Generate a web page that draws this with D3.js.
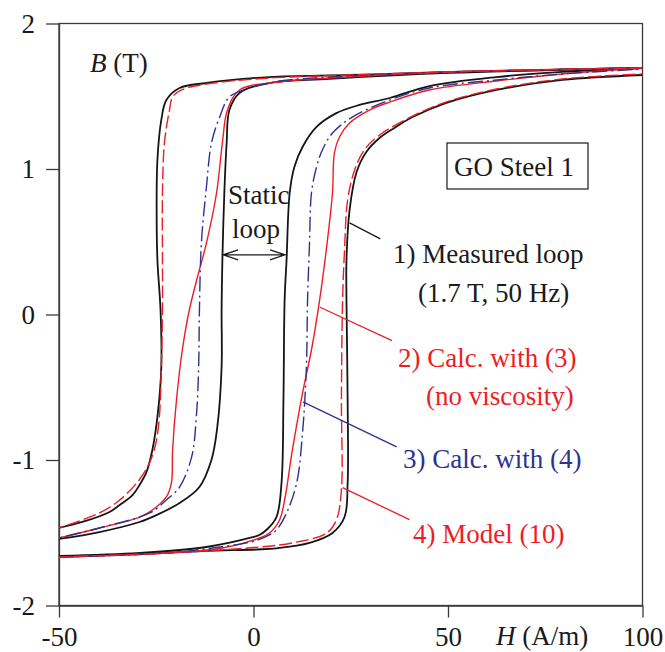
<!DOCTYPE html>
<html>
<head>
<meta charset="utf-8">
<script src="https://cdn.jsdelivr.net/npm/d3@7"></script>
<style>
  body { margin: 0; background: #fff; }
  svg text { font-family: "Liberation Serif", "Times New Roman", serif; }
  .axis path, .axis line { stroke: #3a3a3a; stroke-width: 1.3; }
  .axis text { font-size: 27px; fill: #1a1a1a; }
</style>
</head>
<body>
<script>
// H (A/m), B (T) pairs
const measuredDown = [[100,1.694],[50.4,1.667],[24.7,1.646],[4.1,1.632],[-12.1,1.591],[-19.0,1.557],[-22.4,1.474],[-23.7,1.337],[-24.7,1.062],[-24.9,0.718],[-24.7,0.375],[-23.9,0.031],[-23.7,-0.361],[-24.7,-0.704],[-26.0,-0.931],[-27.5,-1.082],[-29.3,-1.172],[-31.1,-1.241],[-34.4,-1.309],[-37.0,-1.357],[-44.0,-1.426],[-50.1,-1.467]];
const measuredUp = [[-50.1,-1.667],[-22.4,-1.639],[-12.1,-1.625],[0.8,-1.615],[5.9,-1.607],[14.4,-1.570],[20.3,-1.502],[23.4,-1.392],[24.2,-1.158],[24.2,-0.588],[23.9,0.1],[23.9,0.375],[24.7,0.718],[26.5,0.979],[29.0,1.117],[32.4,1.213],[36.2,1.282],[40.9,1.357],[49.6,1.454],[62.5,1.543],[79.4,1.612],[100,1.646]];

const staticDown = [[100,1.694],[50.4,1.660],[19.5,1.619],[4.1,1.591],[-3.6,1.522],[-6.2,1.405],[-6.9,1.179],[-7.5,0.835],[-8.0,0.375],[-8.2,0.031],[-8.2,-0.361],[-9.3,-0.773],[-10.8,-0.999],[-13.9,-1.186],[-19.0,-1.296],[-24.9,-1.378],[-29.3,-1.426],[-39.6,-1.495],[-50.1,-1.543]];
const staticUp = [[-50.1,-1.660],[-29.3,-1.639],[-12.1,-1.598],[-1.0,-1.536],[1.5,-1.515],[3.3,-1.481],[5.9,-1.392],[7.2,-1.158],[7.7,-0.588],[8.0,0.1],[8.5,0.375],[9.3,0.835],[10.5,1.014],[12.6,1.151],[16.2,1.289],[21.3,1.384],[27.2,1.440],[35.0,1.488],[45.2,1.570],[62.5,1.632],[79.4,1.667],[100,1.694]];

const noViscDown = [[100,1.694],[50.4,1.667],[19.5,1.625],[6.7,1.598],[-3.6,1.543],[-6.7,1.405],[-8.0,1.179],[-9.5,0.835],[-12.1,0.491],[-14.4,0.258],[-16.5,0.031],[-18.3,-0.244],[-19.8,-0.588],[-20.8,-0.931],[-21.1,-1.158],[-22.4,-1.254],[-26.0,-1.344],[-29.3,-1.392],[-39.6,-1.467],[-50.1,-1.536]];
const noViscUp = [[-50.1,-1.667],[-22.4,-1.639],[-8.0,-1.605],[1.5,-1.536],[4.1,-1.502],[6.7,-1.412],[8.0,-1.275],[10.0,-0.931],[12.6,-0.540],[14.9,-0.244],[17.0,0.1],[18.8,0.464],[20.3,0.835],[20.8,1.110],[22.1,1.220],[24.7,1.316],[29.8,1.405],[35.0,1.460],[45.2,1.543],[62.5,1.605],[79.4,1.653],[100,1.694]];

const viscDown = [[100,1.694],[50.4,1.667],[19.5,1.632],[6.7,1.605],[-1.0,1.557],[-6.2,1.495],[-8.7,1.357],[-10.8,1.179],[-12.1,0.876],[-13.4,0.491],[-13.9,0.031],[-14.1,-0.361],[-14.7,-0.704],[-15.9,-0.979],[-19.0,-1.186],[-22.4,-1.275],[-26.7,-1.364],[-39.6,-1.467],[-50.1,-1.536]];
const viscUp = [[-50.1,-1.667],[-22.4,-1.639],[-8.7,-1.598],[0.3,-1.557],[4.1,-1.515],[5.9,-1.481],[8.5,-1.364],[11.1,-1.158],[12.6,-0.814],[13.6,-0.361],[13.9,0.1],[14.4,0.491],[14.9,0.835],[16.2,1.014],[17.7,1.131],[20.3,1.247],[25.4,1.357],[35.0,1.474],[45.2,1.557],[62.5,1.612],[79.4,1.653],[100,1.687]];

const modelDown = [[100,1.694],[50.4,1.667],[24.7,1.646],[4.1,1.625],[-12.1,1.584],[-18.5,1.543],[-20.8,1.495],[-21.6,1.405],[-22.9,1.179],[-23.4,0.835],[-23.4,0.375],[-23.4,0.031],[-23.7,-0.361],[-24.2,-0.704],[-25.2,-0.897],[-26.7,-1.017],[-29.3,-1.134],[-34.4,-1.275],[-39.6,-1.364],[-50.1,-1.467]];
const modelUp = [[-50.1,-1.667],[-22.4,-1.639],[1.5,-1.598],[10.0,-1.570],[18.8,-1.502],[21.3,-1.412],[22.6,-1.206],[22.6,-0.588],[22.9,0.1],[23.4,0.443],[24.2,0.787],[26.0,0.993],[28.5,1.131],[32.4,1.234],[40.9,1.364],[49.6,1.461],[62.5,1.550],[79.4,1.619],[100,1.653]];

const xTicks = [-50, 0, 50, 100];
const yTicks = [-2, -1, 0, 1, 2];

const red = '#ee1c25', blue = '#2e3192', black = '#151515';

const W = 665, H = 652;
const plotL = 59, plotR = 642.5, plotT = 23.5, plotB = 605.5;

const x = d3.scaleLinear().domain([-50, 100]).range([plotL, plotR]);
const y = d3.scaleLinear().domain([-2, 2]).range([plotB, plotT]);

const svg = d3.select('body').append('svg')
    .attr('width', W)
    .attr('height', H);

svg.append('defs').append('clipPath')
    .attr('id', 'plot')
  .append('rect')
    .attr('x', plotL).attr('y', plotT)
    .attr('width', plotR - plotL).attr('height', plotB - plotT);

// frame
svg.append('rect')
    .attr('x', plotL).attr('y', plotT)
    .attr('width', plotR - plotL).attr('height', plotB - plotT)
    .attr('fill', 'none')
    .attr('stroke', '#3a3a3a')
    .attr('stroke-width', 1.3);

svg.append('g')
    .attr('class', 'axis')
    .attr('transform', 'translate(' + plotL + ',0)')
    .call(d3.axisLeft(y).tickValues(yTicks).tickSize(13).tickSizeOuter(0).tickPadding(11).tickFormat(function(d) { return String(d); }));

svg.append('g')
    .attr('class', 'axis')
    .attr('transform', 'translate(0,' + plotB + ')')
    .call(d3.axisBottom(x).tickValues(xTicks).tickSize(12).tickSizeOuter(0).tickPadding(9).tickFormat(function(d) { return String(d); }));

svg.selectAll('.axis').attr('font-family', null).attr('font-size', null);

const line = d3.line()
    .x(function(d) { return x(d[0]); })
    .y(function(d) { return y(d[1]); })
    .curve(d3.curveCatmullRom.alpha(0.5));

const curves = [
    {data: measuredDown, color: black, width: 1.8, dash: null},
    {data: measuredUp, color: black, width: 1.8, dash: null},
    {data: staticDown, color: black, width: 1.8, dash: null},
    {data: staticUp, color: black, width: 1.8, dash: null},
    {data: noViscDown, color: red, width: 1.4, dash: null},
    {data: noViscUp, color: red, width: 1.4, dash: null},
    {data: viscDown, color: blue, width: 1.4, dash: '15,4,2,4'},
    {data: viscUp, color: blue, width: 1.4, dash: '15,4,2,4'},
    {data: modelDown, color: red, width: 1.4, dash: '13,4'},
    {data: modelUp, color: red, width: 1.4, dash: '13,4'}
];

svg.append('g')
    .attr('clip-path', 'url(#plot)')
  .selectAll('path')
    .data(curves)
    .enter().append('path')
    .attr('d', function(d) { return line(d.data); })
    .attr('fill', 'none')
    .attr('stroke', function(d) { return d.color; })
    .attr('stroke-width', function(d) { return d.width; })
    .attr('stroke-dasharray', function(d) { return d.dash; });

// axis titles
const bt = svg.append('text')
    .attr('x', 90).attr('y', 72)
    .attr('font-size', 27).attr('fill', '#1a1a1a');
bt.append('tspan').attr('font-style', 'italic').text('B');
bt.append('tspan').text(' (T)');

const ht = svg.append('text')
    .attr('x', 496).attr('y', 645)
    .attr('font-size', 27).attr('fill', '#1a1a1a');
ht.append('tspan').attr('font-style', 'italic').text('H');
ht.append('tspan').text(' (A/m)');

// GO steel box
svg.append('rect')
    .attr('x', 447).attr('y', 143)
    .attr('width', 141).attr('height', 46)
    .attr('fill', '#fff')
    .attr('stroke', '#1a1a1a')
    .attr('stroke-width', 1.2);
svg.append('text')
    .attr('x', 454).attr('y', 176)
    .attr('font-size', 27).attr('fill', '#1a1a1a')
    .text('GO Steel 1');

// static loop label with double arrow
svg.append('text').attr('x', 228).attr('y', 204)
    .attr('font-size', 27).attr('fill', '#1a1a1a').text('Static');
svg.append('text').attr('x', 232).attr('y', 238)
    .attr('font-size', 27).attr('fill', '#1a1a1a').text('loop');

const ax0 = x(-7.8), ax1 = x(8.1), ay = y(0.41);
svg.append('path')
    .attr('d', 'M' + ax0 + ',' + ay + 'H' + ax1 +
               'M' + (ax0 + 15) + ',' + (ay - 5) + 'L' + ax0 + ',' + ay + 'L' + (ax0 + 15) + ',' + (ay + 5) +
               'M' + (ax1 - 15) + ',' + (ay - 5) + 'L' + ax1 + ',' + ay + 'L' + (ax1 - 15) + ',' + (ay + 5))
    .attr('fill', 'none')
    .attr('stroke', '#1a1a1a')
    .attr('stroke-width', 1.3);

// legend labels with leaders
const labels = [
    {lines: ['1) Measured loop', '(1.7 T, 50 Hz)'], xs: [393, 418], ys: [263, 302], color: '#1a1a1a',
     from: [24.7, 0.63], to: [32.6, 0.52]},
    {lines: ['2) Calc. with (3)', '(no viscosity)'], xs: [398, 426], ys: [367, 405], color: red,
     from: [17.1, 0.05], to: [35.6, -0.18]},
    {lines: ['3) Calc. with (4)'], xs: [403], ys: [468], color: blue,
     from: [12.7, -0.60], to: [36.8, -0.91]},
    {lines: ['4) Model (10)'], xs: [413], ys: [543], color: red,
     from: [22.9, -1.19], to: [40.1, -1.41]}
];

labels.forEach(function(l) {
    svg.append('line')
        .attr('x1', x(l.from[0])).attr('y1', y(l.from[1]))
        .attr('x2', x(l.to[0])).attr('y2', y(l.to[1]))
        .attr('stroke', l.color)
        .attr('stroke-width', 1.3);
    l.lines.forEach(function(t, i) {
        svg.append('text')
            .attr('x', l.xs[i]).attr('y', l.ys[i])
            .attr('font-size', 27)
            .attr('fill', l.color)
            .text(t);
    });
});
</script>
</body>
</html>
